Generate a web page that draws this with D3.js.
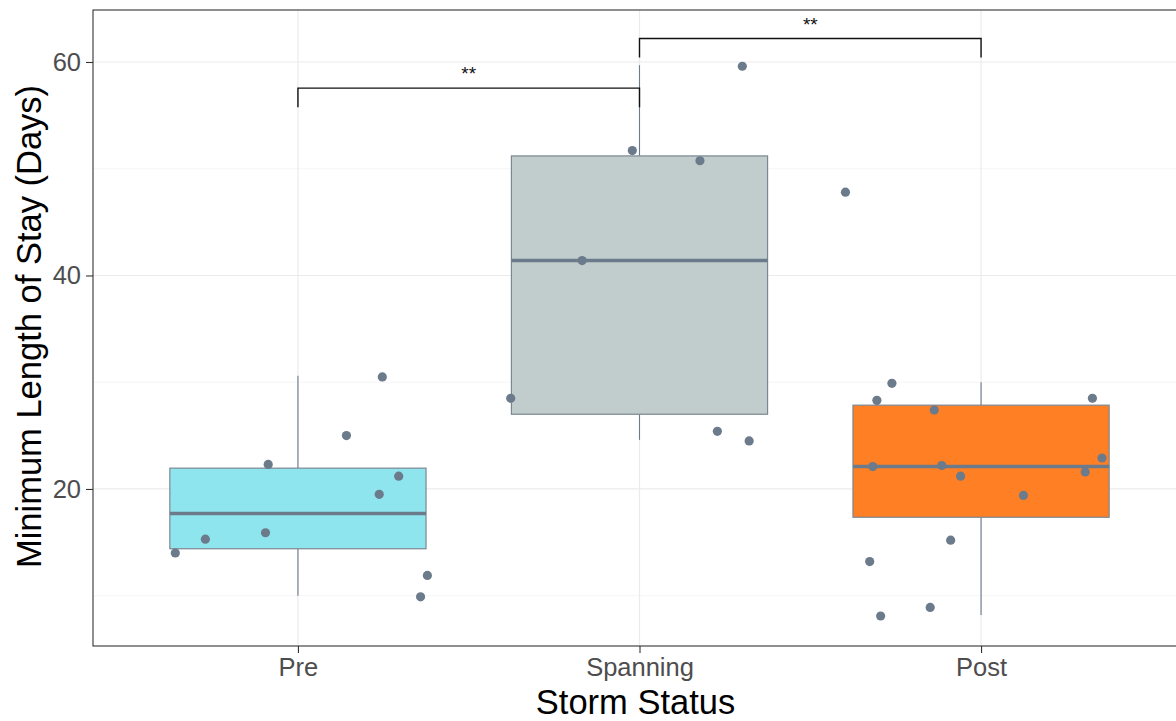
<!DOCTYPE html>
<html>
<head>
<meta charset="utf-8">
<script src="https://cdn.jsdelivr.net/npm/d3@7"></script>
<style>
  html, body { margin: 0; padding: 0; background: #fff; }
  svg { display: block; font-family: "Liberation Sans", Arial, sans-serif; }
</style>
</head>
<body>
<svg id="chart" width="1176" height="721"></svg>
<script>
// ---- data ----
const categories = ["Pre", "Spanning", "Post"];

// box statistics per category: whisker ends, quartiles, median
const whiskerLow  = [10.0, 24.6, 8.2];
const quartile1   = [14.4, 27.0, 17.35];
const medians     = [17.7, 41.4, 22.1];
const quartile3   = [21.95, 51.2, 27.85];
const whiskerHigh = [30.6, 59.7, 30.0];

// individual stays (days) and their horizontal jitter (fraction of a category step)
const preDays = [30.5, 25.0, 22.3, 21.2, 19.5, 15.9, 15.3, 14.0, 11.9, 9.9];
const preJitter = [0.247, 0.142, -0.087, 0.295, 0.238, -0.095, -0.271, -0.359, 0.379, 0.359];
const spanningDays = [59.6, 51.7, 50.75, 41.4, 28.5, 25.4, 24.5];
const spanningJitter = [0.301, -0.021, 0.177, -0.168, -0.377, 0.228, 0.321];
const postDays = [47.8, 29.9, 28.3, 27.4, 28.5, 22.1, 22.2, 21.2, 22.9, 21.6, 19.4, 15.2, 13.2, 8.9, 8.1];
const postJitter = [-0.397, -0.261, -0.305, -0.137, 0.326, -0.317, -0.115, -0.060, 0.354, 0.305, 0.124, -0.089, -0.326, -0.149, -0.294];

// pairwise comparisons with significance labels
const compFrom   = ["Pre", "Spanning"];
const compTo     = ["Spanning", "Post"];
const compY      = [57.55, 62.2];
const compLabels = ["**", "**"];

const yTicks = [20, 40, 60];
const yMinorTicks = [10, 30, 50];

// ---- layout ----
const svg = d3.select("#chart");
const panel = { left: 93, right: 1186, top: 10, bottom: 646 };
const yDomain = [5.29, 64.87];

const x = d3.scalePoint().domain(categories).range([panel.left, panel.right]).padding(0.6);
const y = d3.scaleLinear().domain(yDomain).range([panel.bottom, panel.top]);
const step = x.step();
const boxWidth = 0.75 * step;

const fill = d3.scaleOrdinal().domain(categories).range(["#8EE5EE", "#C1CDCD", "#FF7F24"]);
const ink = "#6C7B8B";

// ---- grid ----
const grid = svg.append("g");
grid.selectAll("line.minor").data(yMinorTicks).join("line")
  .attr("x1", panel.left).attr("x2", panel.right)
  .attr("y1", d => y(d)).attr("y2", d => y(d))
  .attr("stroke", "#f0f0f0").attr("stroke-width", 0.7);
grid.selectAll("line.majorY").data(yTicks).join("line")
  .attr("x1", panel.left).attr("x2", panel.right)
  .attr("y1", d => y(d)).attr("y2", d => y(d))
  .attr("stroke", "#ebebeb").attr("stroke-width", 1.2);
grid.selectAll("line.majorX").data(categories).join("line")
  .attr("y1", panel.top).attr("y2", panel.bottom)
  .attr("x1", d => x(d)).attr("x2", d => x(d))
  .attr("stroke", "#ebebeb").attr("stroke-width", 1.2);

// ---- boxplots ----
const boxes = categories.map((c, i) => ({
  cat: c, lo: whiskerLow[i], q1: quartile1[i], med: medians[i], q3: quartile3[i], hi: whiskerHigh[i]
}));
const bx = svg.append("g").selectAll("g").data(boxes).join("g");
bx.append("line")
  .attr("x1", d => x(d.cat)).attr("x2", d => x(d.cat))
  .attr("y1", d => y(d.q3)).attr("y2", d => y(d.hi))
  .attr("stroke", ink).attr("stroke-width", 1.1);
bx.append("line")
  .attr("x1", d => x(d.cat)).attr("x2", d => x(d.cat))
  .attr("y1", d => y(d.q1)).attr("y2", d => y(d.lo))
  .attr("stroke", ink).attr("stroke-width", 1.1);
bx.append("rect")
  .attr("x", d => x(d.cat) - boxWidth / 2).attr("width", boxWidth)
  .attr("y", d => y(d.q3)).attr("height", d => y(d.q1) - y(d.q3))
  .attr("fill", d => fill(d.cat))
  .attr("stroke", "#7c8792").attr("stroke-width", 1.2);
bx.append("line")
  .attr("x1", d => x(d.cat) - boxWidth / 2).attr("x2", d => x(d.cat) + boxWidth / 2)
  .attr("y1", d => y(d.med)).attr("y2", d => y(d.med))
  .attr("stroke", ink).attr("stroke-width", 3.4);

// ---- points ----
const groups = [
  { cat: "Pre", days: preDays, jit: preJitter },
  { cat: "Spanning", days: spanningDays, jit: spanningJitter },
  { cat: "Post", days: postDays, jit: postJitter }
];
const pts = groups.flatMap(g => g.days.map((v, i) => ({ cat: g.cat, v, j: g.jit[i] })));
svg.append("g").selectAll("circle").data(pts).join("circle")
  .attr("cx", d => x(d.cat) + d.j * step)
  .attr("cy", d => y(d.v))
  .attr("r", 4.6)
  .attr("fill", ink);

// ---- significance brackets ----
const tip = 0.03 * (yDomain[1] - yDomain[0]);
const comps = compFrom.map((f, i) => ({ from: f, to: compTo[i], yv: compY[i], label: compLabels[i] }));
const br = svg.append("g").selectAll("g").data(comps).join("g");
br.append("path")
  .attr("d", d => {
    const x1 = x(d.from), x2 = x(d.to), yy = y(d.yv), yt = y(d.yv - tip);
    return `M${x1},${yt}V${yy}H${x2}V${yt}`;
  })
  .attr("fill", "none").attr("stroke", "#111").attr("stroke-width", 1.4);
br.append("text")
  .attr("x", d => (x(d.from) + x(d.to)) / 2)
  .attr("y", d => y(d.yv) - 8)
  .attr("text-anchor", "middle")
  .attr("font-size", 19)
  .attr("fill", "#111")
  .text(d => d.label);

// ---- panel border ----
svg.append("rect")
  .attr("x", panel.left).attr("y", panel.top)
  .attr("width", panel.right - panel.left).attr("height", panel.bottom - panel.top)
  .attr("fill", "none").attr("stroke", "#333").attr("stroke-width", 1.1);

// ---- axes ----
const yAxis = svg.append("g")
  .attr("transform", `translate(${panel.left},0)`)
  .call(d3.axisLeft(y).tickValues(yTicks).tickSize(7).tickPadding(5));
const xAxis = svg.append("g")
  .attr("transform", `translate(0,${panel.bottom})`)
  .call(d3.axisBottom(x).tickSize(7).tickPadding(5));
[yAxis, xAxis].forEach(a => {
  a.select(".domain").remove();
  a.selectAll(".tick line").attr("stroke", "#333").attr("stroke-width", 1.1);
  a.selectAll(".tick text").attr("fill", "#4d4d4d").attr("font-size", 25.5)
    .attr("font-family", "'Liberation Sans', Arial, sans-serif");
});

// ---- titles ----
svg.append("text")
  .attr("x", (panel.left + panel.right) / 2 - 4).attr("y", 714)
  .attr("text-anchor", "middle").attr("font-size", 34.5).attr("fill", "#000")
  .text("Storm Status");
svg.append("text")
  .attr("transform", `translate(41,${(85 + 568) / 2}) rotate(-90)`)
  .attr("text-anchor", "middle").attr("font-size", 34.5).attr("fill", "#000")
  .text("Minimum Length of Stay (Days)");
</script>
</body>
</html>
